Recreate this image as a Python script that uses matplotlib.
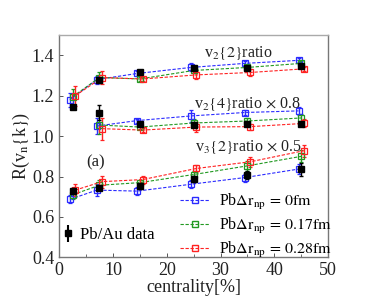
import matplotlib
matplotlib.use("Agg")
import matplotlib.pyplot as plt
from matplotlib.lines import Line2D
import numpy as np

plt.rcParams['font.family'] = ['Liberation Serif', 'DejaVu Serif']
plt.rcParams['mathtext.fontset'] = 'stix'

# centrality positions (offset per series)
x_blue = [2.0, 7.0, 14.5, 24.5, 34.5, 44.5]
x_green = [2.5, 7.5, 15.0, 25.0, 35.0, 45.0]
x_red = [3.0, 8.0, 15.5, 25.5, 35.5, 45.5]
x_data = [2.5, 7.5, 15.0, 25.0, 35.0, 45.0]

# v2{2} ratio
v22_blue = [1.18, 1.28, 1.31, 1.34, 1.36, 1.375]
v22_green = [1.195, 1.29, 1.283, 1.325, 1.34, 1.36]
v22_red = [1.20, 1.29, 1.283, 1.303, 1.315, 1.333]
v22_data = [1.142, 1.278, 1.318, 1.335, 1.337, 1.345]
v22_blue_err = [0.035, 0.02, 0.01, 0.02, 0.01, 0.01]
v22_green_err = [0.04, 0.025, 0.01, 0.015, 0.01, 0.012]
v22_red_err = [0.05, 0.03, 0.01, 0.018, 0.015, 0.01]
v22_data_err = [0.008, 0.008, 0.008, 0.008, 0.008, 0.008]

# v2{4} ratio x 0.8
x4_blue = x_blue[1:]
x4_green = x_green[1:]
x4_red = x_red[1:]
x4_data = x_data[1:]
v24_blue = [1.05, 1.077, 1.10, 1.117, 1.125]
v24_green = [1.055, 1.045, 1.065, 1.075, 1.09]
v24_red = [1.037, 1.03, 1.045, 1.047, 1.063]
v24_data = [1.117, 1.062, 1.055, 1.061, 1.058]
v24_blue_err = [0.04, 0.01, 0.03, 0.01, 0.02]
v24_green_err = [0.045, 0.01, 0.02, 0.015, 0.02]
v24_red_err = [0.055, 0.01, 0.025, 0.015, 0.02]
v24_data_err = [0.035, 0.01, 0.01, 0.01, 0.01]

# v3{2} ratio x 0.5
v32_blue = [0.687, 0.733, 0.728, 0.762, 0.795, 0.837]
v32_green = [0.71, 0.757, 0.77, 0.81, 0.853, 0.90]
v32_red = [0.733, 0.775, 0.785, 0.84, 0.873, 0.928]
v32_data = [0.73, 0.742, 0.753, 0.79, 0.81, 0.835]
v32_blue_err = [0.02, 0.03, 0.02, 0.02, 0.02, 0.025]
v32_green_err = [0.02, 0.025, 0.015, 0.02, 0.025, 0.03]
v32_red_err = [0.03, 0.03, 0.02, 0.015, 0.025, 0.03]
v32_data_err = [0.015, 0.01, 0.015, 0.015, 0.02, 0.03]

labels_model = [r'Pb$\Delta\mathrm{r}_{\mathrm{np}}\,=\,0\mathrm{fm}$',
                r'Pb$\Delta\mathrm{r}_{\mathrm{np}}\,=\,0.17\mathrm{fm}$',
                r'Pb$\Delta\mathrm{r}_{\mathrm{np}}\,=\,0.28\mathrm{fm}$']
label_data = 'Pb/Au data'
colors = ['#2b2bff', '#229922', '#ff2222']

fig = plt.figure(figsize=(3.65, 3.0), dpi=100)
ax = fig.add_axes([0.162, 0.142, 0.737, 0.741])

groups = [
    (x_blue, x_green, x_red, x_data,
     v22_blue, v22_green, v22_red, v22_data,
     v22_blue_err, v22_green_err, v22_red_err, v22_data_err),
    (x4_blue, x4_green, x4_red, x4_data,
     v24_blue, v24_green, v24_red, v24_data,
     v24_blue_err, v24_green_err, v24_red_err, v24_data_err),
    (x_blue, x_green, x_red, x_data,
     v32_blue, v32_green, v32_red, v32_data,
     v32_blue_err, v32_green_err, v32_red_err, v32_data_err),
]

for g in groups:
    xs = g[0:3]
    ys = g[4:7]
    es = g[8:11]
    for xx, yy, ee, c in zip(xs, ys, es, colors):
        ax.errorbar(xx, yy, yerr=ee, color=c, ls='--', lw=0.8, marker='s',
                    ms=4.0, mfc='none', mec=c, mew=0.9, capsize=1.5,
                    elinewidth=1.0, dashes=(3, 1.5), zorder=2)
    ax.errorbar(g[3], g[7], yerr=g[11], color='black', ls='none', marker='s',
                ms=4.0, capsize=1.5, elinewidth=1.0, zorder=3)

ax.set_xlim(0, 50)
ax.set_ylim(0.4, 1.5)
ax.set_xticks([0, 10, 20, 30, 40, 50])
ax.set_xticks([5, 15, 25, 35, 45], minor=True)
ax.set_yticks([0.4, 0.6, 0.8, 1.0, 1.2, 1.4])
ax.tick_params(direction='in', labelsize=13, length=3, width=0.7, colors='#555555',
               labelcolor='#222222')
ax.tick_params(which='minor', direction='in', length=2, width=0.6, colors='#555555')
for s in ax.spines.values():
    s.set_color('#777777')
    s.set_linewidth(1.0)
ax.spines['top'].set_color('#aaaaaa')

ax.set_xlabel('centrality[%]', fontsize=13, labelpad=0, color='#222222')
ax.set_ylabel(r'R(v$_{\mathrm{n}}$$\{$k$\}$)', fontsize=13, labelpad=0, color='#222222')

ax.text(27.0, 1.41, r'v$_2$$\{2\}$ratio', fontsize=11.5, va='center', color='#222222')
ax.text(25.0, 1.158, r'v$_2$$\{4\}$ratio$\,\times\,$0.8', fontsize=11.5, va='center', color='#222222')
ax.text(25.2, 0.946, r'v$_3$$\{2\}$ratio$\,\times\,$0.5', fontsize=11.5, va='center', color='#222222')
ax.text(5.0, 0.87, '(a)', fontsize=12, va='center', color='#222222')

h_models = [Line2D([], [], color=c, ls='--', lw=0.8, marker='s', ms=4.0, mfc='none',
                   mec=c, dashes=(3, 1.5)) for c in colors]
leg1 = ax.legend(h_models, labels_model, loc='lower left', frameon=False, fontsize=11.5,
                 handlelength=1.8, handletextpad=0.6, labelspacing=0.25,
                 borderpad=0, borderaxespad=0, bbox_to_anchor=(0.45, -0.012))
ax.add_artist(leg1)
h_data = ax.errorbar([], [], yerr=[], color='black', ls='none', marker='s', ms=4.0,
                     capsize=1.5)
ax.legend([h_data], [label_data], loc='center left', frameon=False, fontsize=12,
          handlelength=0.8, handletextpad=0.3, borderpad=0, borderaxespad=0,
          bbox_to_anchor=(0.01, 0.10))

fig.savefig('out.png', dpi=100)
